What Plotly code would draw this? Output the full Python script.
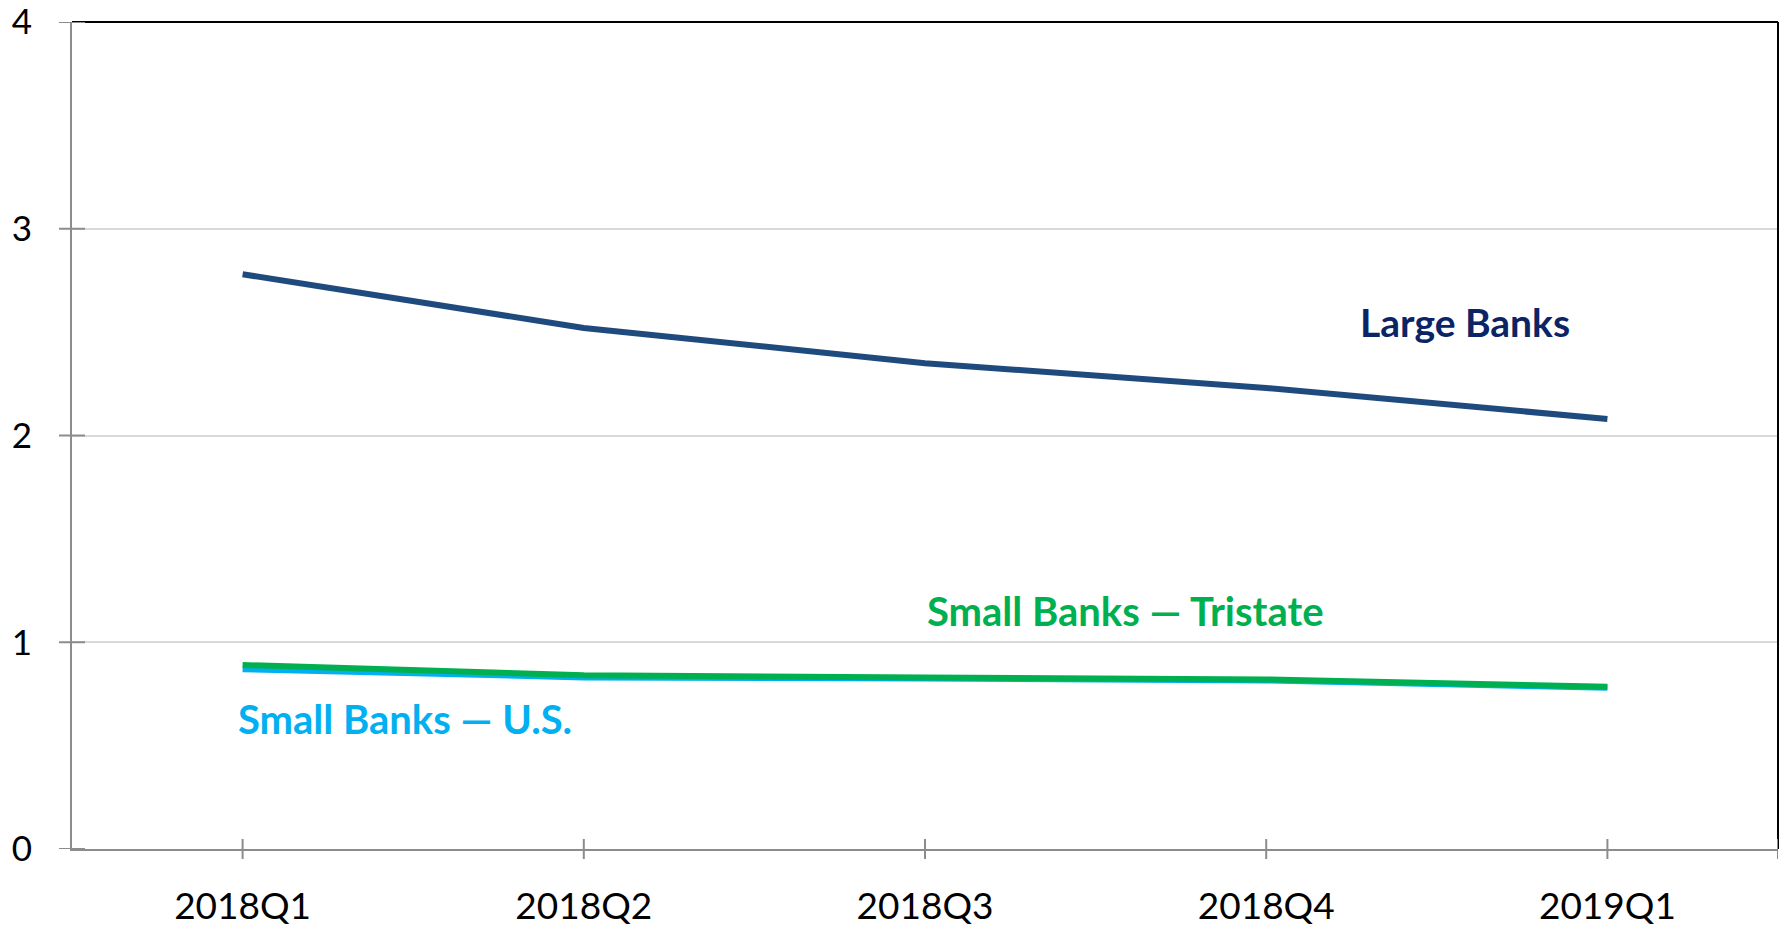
import plotly.graph_objects as go

quarters = ["2018Q1", "2018Q2", "2018Q3", "2018Q4", "2019Q1"]
large_banks = [2.78, 2.52, 2.35, 2.23, 2.08]
small_tristate = [0.89, 0.84, 0.83, 0.82, 0.785]
small_us = [0.87, 0.83, 0.825, 0.815, 0.78]
y_ticks = [0, 1, 2, 3, 4]

C_LARGE = "#1F4A7E"
C_LARGE_TXT = "#0B2466"
C_TRI = "#00B050"
C_US = "#00B0F0"
GRAY = "#8C8C8C"
FONT = "Lato"

xi = list(range(len(quarters)))

fig = go.Figure()
fig.add_trace(go.Scatter(x=xi, y=small_us, mode="lines",
                         line=dict(color=C_US, width=6), showlegend=False))
fig.add_trace(go.Scatter(x=xi, y=small_tristate, mode="lines",
                         line=dict(color=C_TRI, width=6), showlegend=False))
fig.add_trace(go.Scatter(x=xi, y=large_banks, mode="lines",
                         line=dict(color=C_LARGE, width=6), showlegend=False))

# page body has an 8px margin, so the figure is sized to fit the window after it
FIG_W, FIG_H = 1779, 918
ML, MR, MT, MB = 64, 9, 14, 77
W = FIG_W - ML - MR
H = FIG_H - MT - MB
half_x = 13 / W
half_y = 10 / H

shapes = []
shapes.append(dict(type="line", xref="paper", yref="paper", x0=0, x1=1, y0=1, y1=1,
                   line=dict(color="black", width=2), layer="above"))
shapes.append(dict(type="line", xref="paper", yref="paper", x0=1, x1=1, y0=0, y1=1,
                   line=dict(color="black", width=2), layer="above"))
for v in y_ticks:
    shapes.append(dict(type="line", xref="paper", yref="y", x0=-half_x, x1=half_x, y0=v, y1=v,
                       line=dict(color=GRAY, width=2), layer="above"))
for v in xi + [len(quarters) - 0.5]:
    shapes.append(dict(type="line", xref="x", yref="paper", x0=v, x1=v, y0=-half_y, y1=half_y,
                       line=dict(color=GRAY, width=2), layer="above"))

annotations = [
    dict(x=3.27, y=2.55, xref="x", yref="y", text="<b>Large Banks</b>", showarrow=False,
         xanchor="left", yanchor="middle", font=dict(family=FONT, size=39, color=C_LARGE_TXT)),
    dict(x=2.0, y=1.15, xref="x", yref="y", text="<b>Small Banks — Tristate</b>", showarrow=False,
         xanchor="left", yanchor="middle", font=dict(family=FONT, size=40, color=C_TRI)),
    dict(x=-0.02, y=0.63, xref="x", yref="y", text="<b>Small Banks — U.S.</b>", showarrow=False,
         xanchor="left", yanchor="middle", font=dict(family=FONT, size=40, color=C_US)),
]

fig.update_layout(
    width=FIG_W, height=FIG_H,
    margin=dict(l=ML, r=MR, t=MT, b=MB),
    paper_bgcolor="white", plot_bgcolor="white",
    font=dict(family=FONT, color="black"),
    shapes=shapes, annotations=annotations,
    xaxis=dict(range=[-0.5, len(quarters) - 0.5], tickmode="array", tickvals=xi, ticktext=quarters,
               showgrid=False, zeroline=False, showline=True, linecolor=GRAY, linewidth=2,
               automargin=False, ticklabeloverflow="allow",
               ticks="", ticklabelstandoff=24, tickfont=dict(family=FONT, size=37, color="black")),
    yaxis=dict(range=[0, 4], tickmode="array", tickvals=y_ticks, showgrid=True, gridcolor="#D9D9D9",
               gridwidth=1.5, zeroline=False, showline=True, linecolor=GRAY, linewidth=2,
               automargin=False, ticklabeloverflow="allow",
               ticks="", ticklabelstandoff=31, tickfont=dict(family=FONT, size=35, color="black")),
)

fig.write_html("out.html")
